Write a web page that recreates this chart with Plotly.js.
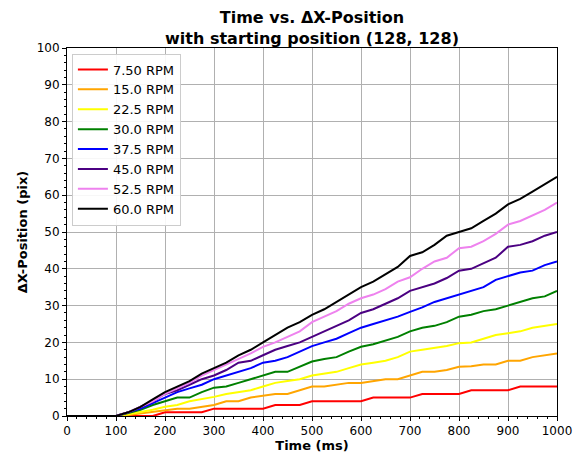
<!DOCTYPE html>
<html>
<head>
<meta charset="utf-8">
<script src="https://cdn.plot.ly/plotly-3.0.1.min.js"></script>
<style>html,body{margin:0;padding:0;background:#fff;}#chart{width:576px;height:461px;}</style>
</head>
<body>
<div id="chart"></div>
<script>
const time_ms = [0,25,50,75,100,125,150,175,200,225,250,275,300,325,350,375,400,425,450,475,500,525,550,575,600,625,650,675,700,725,750,775,800,825,850,875,900,925,950,975,1000];

const rpm_labels = ["7.50 RPM","15.0 RPM","22.5 RPM","30.0 RPM","37.5 RPM","45.0 RPM","52.5 RPM","60.0 RPM"];

const rpm_7_50 = [0,0,0,0,0,0,0,0,1,1,1,1,2,2,2,2,2,3,3,3,4,4,4,4,4,5,5,5,5,6,6,6,6,7,7,7,7,8,8,8,8];
const rpm_15_0 = [0,0,0,0,0,0.3,0.7,1,1.5,2,2,2.5,3,4,4,5,5.5,6,6,7,8,8,8.5,9,9,9.5,10,10,11,12,12,12.5,13.4,13.5,14,14,15,15,16,16.5,17];
const rpm_22_5 = [0,0,0,0,0,0.5,1,1.7,2.5,3,4,4.5,5.2,6,6.5,7,8,9,9.5,10,11,11.5,12,13,14,14.5,15,16,17.5,18,18.5,19,19.8,20,21,22,22.5,23,24,24.5,25];
const rpm_30_0 = [0,0,0,0,0,0.8,1.7,3,4,5,5,6.5,7.7,8,9,10,11,12,12,13.5,14.8,15.5,16,17.5,18.8,19.5,20.5,21.5,23,24,24.5,25.5,27,27.5,28.5,29,30,31,32,32.5,34];
const rpm_37_5 = [0,0,0,0,0,1,2,3.5,5,6.5,7.5,8.5,10,11,12,13,14.5,15,16,17.5,19,20,21,22.5,24,25,26,27,28.3,29.5,31,32,33.2,34,35,37,38,39,39.5,41,42];
const rpm_45_0 = [0,0,0,0,0,1,2.5,4,6,7,8.5,10,11,12.5,14.5,15,16.5,18,19,20,21.5,23,24.5,26,28,29,30.5,32,34,35,36,37.5,39.5,40,41.5,43,46,46.5,47.5,49,50];
const rpm_52_5 = [0,0,0,0,0,1,2.5,4,6,7.5,9,11,12.5,14,15.5,17,18.8,20,21.5,23,25.5,27,28.5,30.5,32,33,34.5,36.5,37.7,40,42,43,45.6,46,47.5,49.5,52,53,54.5,56,58];
const rpm_60_0 = [0,0,0,0,0,1,2.5,4.5,6.5,8,9.5,11.5,13,14.5,16.5,18,20,22,24,25.5,27.5,29,31,33,35,36.5,38.5,40.5,43.5,44.5,46.5,49,50,51,53,55,57.5,59,61,63,65];

const series = [rpm_7_50, rpm_15_0, rpm_22_5, rpm_30_0, rpm_37_5, rpm_45_0, rpm_52_5, rpm_60_0];
const colors = ["#ff0000","#ffa500","#ffff00","#008000","#0000ff","#4b0082","#ee82ee","#000000"];

const traces = series.map((ys, i) => ({
  x: time_ms, y: ys, type: "scatter", mode: "lines",
  name: rpm_labels[i],
  line: {color: colors[i], width: 2}
}));

const axisCommon = {
  showline: true, linecolor: "#000", linewidth: 1, mirror: true,
  ticks: "outside", ticklen: 4, tickcolor: "#000", tickwidth: 1,
  showgrid: true, gridcolor: "#b0b0b0", gridwidth: 1,
  zeroline: false,
  tickfont: {family: "DejaVu Sans", size: 12, color: "#000"}
};

const layout = {
  width: 576, height: 461,
  margin: {l: 67, r: 19, t: 48, b: 45},
  paper_bgcolor: "#fff", plot_bgcolor: "#fff",
  title: {
    text: "<b>Time vs. ΔX-Position<br>with starting position (128, 128)</b>",
    font: {family: "DejaVu Sans", size: 16, color: "#000"},
    xref: "paper", x: 0.5, xanchor: "center",
    yref: "container", y: 0.95, yanchor: "top"
  },
  xaxis: Object.assign({}, axisCommon, {
    range: [0, 1000], dtick: 100, tick0: 0,
    minor: {dtick: 20, ticks: "outside", ticklen: 2, tickcolor: "#000", showgrid: false},
    title: {text: "<b>Time (ms)</b>", font: {family: "DejaVu Sans", size: 13, color: "#000"}, standoff: 3}
  }),
  yaxis: Object.assign({}, axisCommon, {
    range: [0, 100], dtick: 10, tick0: 0,
    minor: {dtick: 2, ticks: "outside", ticklen: 2, tickcolor: "#000", showgrid: false},
    title: {text: "<b>ΔX-Position (pix)</b>", font: {family: "DejaVu Sans", size: 13, color: "#000"}, standoff: 6}
  }),
  legend: {
    x: 0.01, y: 0.985, xanchor: "left", yanchor: "top",
    bgcolor: "rgba(255,255,255,0.9)", bordercolor: "#cccccc", borderwidth: 1,
    font: {family: "DejaVu Sans", size: 13, color: "#000"}
  },
  showlegend: true
};

Plotly.newPlot("chart", traces, layout, {displayModeBar: false, staticPlot: true});
</script>
</body>
</html>
